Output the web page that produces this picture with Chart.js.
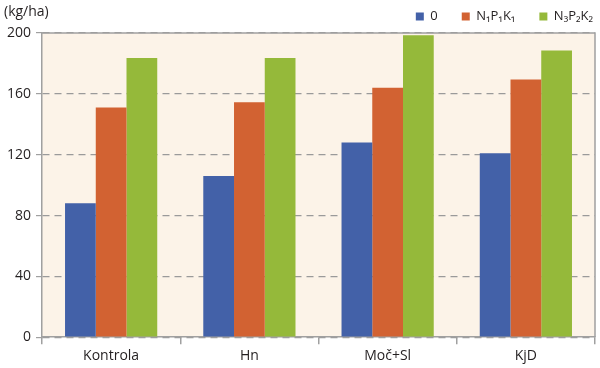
<!DOCTYPE html>
<html>
<head>
<meta charset="utf-8">
<script src="https://cdn.jsdelivr.net/npm/chart.js@4/dist/chart.umd.min.js"></script>
<style>
  html, body { margin: 0; padding: 0; background: #fff; }
  .wrap { position: relative; width: 600px; height: 368px; }
  .unit { position: absolute; left: 4px; top: 1px; font: 14px "Open Sans", sans-serif; color: #231f20; }
</style>
</head>
<body>
<div class="wrap">
  <canvas id="chart" width="600" height="368"></canvas>
  <div class="unit">(kg/ha)</div>
</div>
<script>
// kategorie a hodnoty (kg/ha)
const categories = ['Kontrola', 'Hn', 'Moč+Sl', 'KjD'];
const seriesNames = ['0', 'N₁P₁K₁', 'N₃P₂K₂'];
const values0 = [88, 106, 128, 121];
const valuesN1 = [151, 154.5, 164, 169.5];
const valuesN3 = [183.5, 183.5, 198.5, 188.5];
const yTicks = [0, 40, 80, 120, 160, 200];

const colors = ['#4361a8', '#d26232', '#95b93a'];

const plotTop = 33;     // horni okraj plochy grafu
const legendShift = 14; // posun legendy nahoru
const legendRight = 22; // posun legendy doprava

// pozadi a ramecek plochy grafu, legenda posunuta nahoru
const plotFrame = {
  id: 'plotFrame',
  beforeLayout(chart) {
    const legend = chart.legend;
    if (legend && !legend._patched) {
      const origFit = legend.fit;
      legend.fit = function () {
        origFit.call(this);
        this.height = plotTop;
      };
      legend._patched = true;
    }
  },
  afterLayout(chart) {
    if (chart.legend) {
      chart.legend.top -= legendShift;
      chart.legend.right += legendRight;
    }
  },
  beforeDraw(chart) {
    const { ctx, chartArea: a } = chart;
    ctx.save();
    ctx.fillStyle = '#fcf3e8';
    ctx.fillRect(a.left, a.top, a.right - a.left, a.bottom - a.top);
    ctx.restore();
  },
  afterDraw(chart) {
    const { ctx, chartArea: a } = chart;
    ctx.save();
    ctx.strokeStyle = '#a0a0a0';
    ctx.lineWidth = 1.5;
    ctx.beginPath();
    ctx.moveTo(a.left, a.top);
    ctx.lineTo(a.right, a.top);
    ctx.lineTo(a.right, a.bottom);
    ctx.stroke();
    ctx.restore();
  }
};

const font = { family: '"Open Sans", sans-serif', size: 14 };
const legendFont = { family: '"Open Sans", sans-serif', size: 13 };

new Chart(document.getElementById('chart'), {
  type: 'bar',
  data: {
    labels: categories,
    datasets: [
      { label: seriesNames[0], data: values0, backgroundColor: colors[0] },
      { label: seriesNames[1], data: valuesN1, backgroundColor: colors[1] },
      { label: seriesNames[2], data: valuesN3, backgroundColor: colors[2] },
    ],
  },
  options: {
    responsive: false,
    animation: false,
    layout: { padding: { top: 0, right: 5, left: 2, bottom: 1 } },
    datasets: { bar: { barPercentage: 1, categoryPercentage: 0.667 } },
    plugins: {
      tooltip: { enabled: false },
      legend: {
        position: 'top',
        align: 'end',
        labels: {
          font: legendFont,
          color: '#231f20',
          boxWidth: 8,
          boxHeight: 8,
          padding: 24,
        },
      },
    },
    scales: {
      x: {
        grid: { display: true, drawOnChartArea: false, offset: true, color: '#a0a0a0', tickLength: 7, lineWidth: 1.5 },
        border: { color: '#a0a0a0', width: 1.5 },
        ticks: { font: font, color: '#231f20', padding: 3 },
      },
      y: {
        min: 0,
        max: 200,
        afterBuildTicks(axis) { axis.ticks = yTicks.map(v => ({ value: v })); },
        grid: { color: '#9a9a9a', lineWidth: 1.2, tickLength: 6, tickColor: '#a0a0a0', tickBorderDash: [] },
        border: { color: '#a0a0a0', width: 1.5, dash: [7, 5] },
        ticks: { font: font, color: '#231f20', padding: 5 },
      },
    },
  },
  plugins: [plotFrame],
});
</script>
</body>
</html>
